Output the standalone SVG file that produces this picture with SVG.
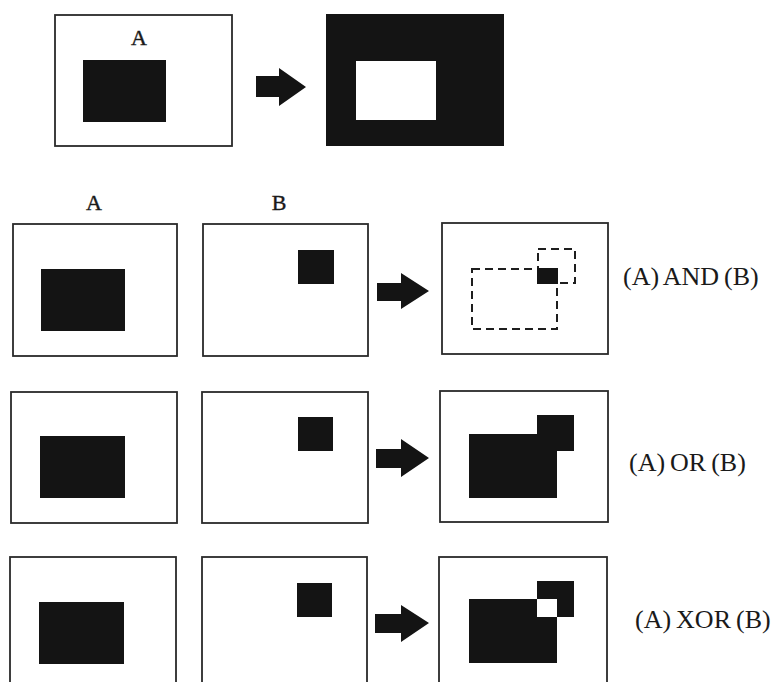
<svg xmlns="http://www.w3.org/2000/svg" width="780" height="682" viewBox="0 0 780 682">
  <style>
    .frame { fill: #fff; stroke: #2a2a2a; stroke-width: 1.8; }
    .solid { fill: #141414; }
    .hole { fill: #fff; }
    .dash { fill: none; stroke: #1e1e1e; stroke-width: 2; stroke-dasharray: 8 5; }
    .arrow { fill: #141414; }
    .lbl { font-family: "Liberation Serif", "Times New Roman", serif; fill: #1a1a1a; }
    .head { font-size: 22px; stroke: #1a1a1a; stroke-width: 0.4; }
    .op { font-size: 26px; word-spacing: -1.5px; }
  </style>
  <rect width="780" height="682" fill="#fff"/>

  <!-- inversion example -->
  <g id="invert-src">
    <rect class="frame" x="55" y="15" width="177" height="131"/>
    <rect class="solid" x="83" y="60" width="83" height="62"/>
    <text class="lbl head" x="139" y="45" text-anchor="middle">A</text>
  </g>
  <g id="invert-dst">
    <rect class="solid" x="326" y="14" width="178" height="132"/>
    <rect class="hole" x="356" y="61" width="80" height="59"/>
  </g>

  <!-- column headings -->
  <text class="lbl head" x="94" y="210" text-anchor="middle">A</text>
  <text class="lbl head" x="279" y="210" text-anchor="middle">B</text>

  <!-- AND row -->
  <g id="and-a">
    <rect class="frame" x="13" y="224" width="164" height="132"/>
    <rect class="solid" x="41" y="269" width="84" height="62"/>
  </g>
  <g id="and-b">
    <rect class="frame" x="203" y="224" width="165" height="132"/>
    <rect class="solid" x="298" y="250" width="36" height="34"/>
  </g>
  <g id="and-result">
    <rect class="frame" x="442" y="223" width="166" height="131"/>
    <rect class="dash" x="472" y="269" width="85" height="60"/>
    <rect class="dash" x="538" y="249" width="37" height="34"/>
    <rect class="solid" x="537" y="268" width="21" height="16"/>
  </g>
  <text class="lbl op" x="623" y="285">(A) AND (B)</text>

  <!-- OR row -->
  <g id="or-a">
    <rect class="frame" x="11" y="392" width="166" height="131"/>
    <rect class="solid" x="40" y="436" width="85" height="62"/>
  </g>
  <g id="or-b">
    <rect class="frame" x="202" y="392" width="166" height="131"/>
    <rect class="solid" x="298" y="417" width="35" height="34"/>
  </g>
  <g id="or-result">
    <rect class="frame" x="440" y="391" width="168" height="131"/>
    <rect class="solid" x="469" y="434" width="88" height="64"/>
    <rect class="solid" x="537" y="415" width="37" height="36"/>
  </g>
  <text class="lbl op" x="629" y="471">(A) OR (B)</text>

  <!-- XOR row -->
  <g id="xor-a">
    <rect class="frame" x="10" y="557" width="166" height="140"/>
    <rect class="solid" x="39" y="602" width="85" height="62"/>
  </g>
  <g id="xor-b">
    <rect class="frame" x="202" y="557" width="165" height="140"/>
    <rect class="solid" x="297" y="583" width="35" height="34"/>
  </g>
  <g id="xor-result">
    <rect class="frame" x="439" y="557" width="168" height="140"/>
    <rect class="solid" x="469" y="599" width="88" height="64"/>
    <rect class="solid" x="537" y="581" width="37" height="36"/>
    <rect class="hole" x="537" y="599" width="20" height="18"/>
  </g>
  <text class="lbl op" x="635" y="628">(A) XOR (B)</text>

  <!-- block arrows -->
  <g id="connectors">
    <polygon class="arrow" points="256,76 279,76 279,68 306,87 279,106 279,97 256,97"/>
    <polygon class="arrow" points="377,283 401,283 401,273 429,291 401,309 401,301 377,301"/>
    <polygon class="arrow" points="376,449 401,449 401,439 429,458 401,477 401,468 376,468"/>
    <polygon class="arrow" points="375,614 401,614 401,605 429,623 401,642 401,633 375,633"/>
  </g>
</svg>
